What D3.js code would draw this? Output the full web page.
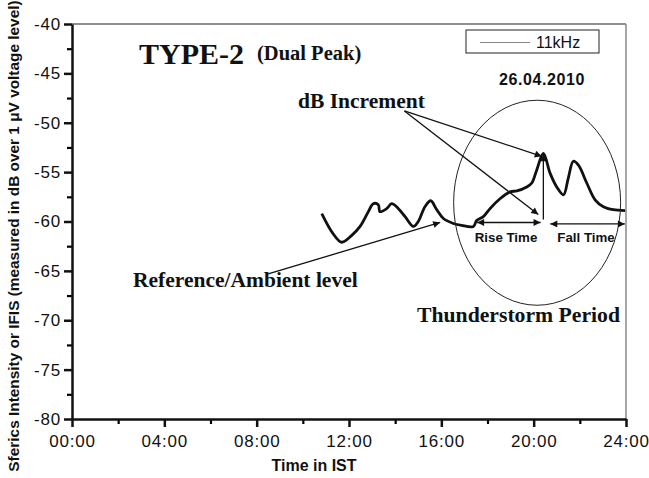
<!DOCTYPE html>
<html>
<head>
<meta charset="utf-8">
<script src="https://cdn.jsdelivr.net/npm/d3@7"></script>
<style>
  body { margin: 0; background: #fff; }
  svg { display: block; }
  .tick text { font-family: "Liberation Sans", Arial, sans-serif; font-size: 17px; letter-spacing: 0.8px; fill: #111; }
  .serif { font-family: "Liberation Serif", "Times New Roman", serif; font-weight: bold; fill: #111; }
  .sans { font-family: "Liberation Sans", Arial, sans-serif; fill: #111; }
</style>
</head>
<body>
<div class="chart"></div>
<script>
// Data: time of day (hours, IST) and 11 kHz sferics level (dB)
const hours = [10.82, 11.3, 11.68, 12.12, 12.48, 12.84, 13.05, 13.27, 13.34, 13.63, 13.85, 14.14, 14.43,
    14.79, 15.0, 15.29, 15.54, 15.8, 16.09, 16.52, 16.88, 17.39, 17.53, 17.82, 18.11, 18.54, 18.98,
    19.27, 19.7, 19.92, 20.13, 20.42, 20.71, 21.0, 21.29, 21.5, 21.72, 21.94, 22.3, 22.66, 23.02,
    23.45, 23.96];
const levels = [-59.2, -61.2, -62.1, -61.4, -60.5, -59.0, -58.2, -58.3, -59.0, -58.7, -58.2, -58.7, -59.5,
    -60.5, -60.0, -58.5, -57.9, -58.8, -59.7, -60.2, -60.4, -60.5, -59.9, -59.5, -58.7, -57.7, -57.0,
    -56.9, -56.5, -56.1, -54.8, -53.1, -55.1, -56.5, -57.3, -55.6, -53.9, -54.3, -56.1, -57.8, -58.5,
    -58.8, -58.9];
const xTickValues = [0, 4, 8, 12, 16, 20, 24];
const xTickLabels = ['00:00', '04:00', '08:00', '12:00', '16:00', '20:00', '24:00'];
const yTickValues = [-40, -45, -50, -55, -60, -65, -70, -75, -80];
const seriesName = '11kHz';
const dateLabel = '26.04.2010';

// Margins
const svgWidth = 649;
const svgHeight = 478;
const margin = { top: 24, right: 23, bottom: 59, left: 72 };
const width = svgWidth - margin.left - margin.right;
const height = svgHeight - margin.top - margin.bottom;

const xScale = d3.scaleLinear().domain([0, 24]).range([0, width]);
const yScale = d3.scaleLinear().domain([-80, -40]).range([height, 0]);

const root = d3.select('.chart').append('svg')
    .attr('width', svgWidth)
    .attr('height', svgHeight);

const defs = root.append('defs');
defs.append('marker')
    .attr('id', 'head')
    .attr('viewBox', '0 0 10 10')
    .attr('refX', 10).attr('refY', 5)
    .attr('markerWidth', 9).attr('markerHeight', 7)
    .attr('markerUnits', 'userSpaceOnUse')
    .attr('orient', 'auto-start-reverse')
    .append('path')
    .attr('d', 'M0,0 L10,5 L0,10 z')
    .attr('fill', '#111');

const svg = root.append('g')
    .attr('transform', 'translate(' + margin.left + ',' + margin.top + ')');

// frame: top and right
svg.append('line').attr('x1', 0).attr('x2', width).attr('y1', 0).attr('y2', 0)
    .attr('stroke', '#222').attr('stroke-width', 1.2);
svg.append('line').attr('x1', width).attr('x2', width).attr('y1', 0).attr('y2', height)
    .attr('stroke', '#888').attr('stroke-width', 1.5);

// minor ticks
const xMinor = d3.axisBottom(xScale).tickValues(d3.range(2, 24, 4)).tickSize(5).tickFormat('');
svg.append('g').attr('transform', 'translate(0,' + height + ')').call(xMinor)
    .call(g => g.select('.domain').remove())
    .call(g => g.selectAll('.tick line').attr('stroke-width', 2.2));
const yMinor = d3.axisLeft(yScale).tickValues(d3.range(-77.5, -40, 5)).tickSize(5).tickFormat('');
svg.append('g').call(yMinor)
    .call(g => g.select('.domain').remove())
    .call(g => g.selectAll('.tick line').attr('stroke-width', 2.2));

// axes
const xAxis = d3.axisBottom(xScale)
    .tickValues(xTickValues)
    .tickFormat((d, i) => xTickLabels[i])
    .tickSizeInner(8)
    .tickSizeOuter(0)
    .tickPadding(6);
const xAxisDraw = svg.append('g').attr('class', 'x axis')
    .attr('transform', 'translate(0,' + height + ')');
xAxis(xAxisDraw);

const yAxis = d3.axisLeft(yScale)
    .tickValues(yTickValues)
    .tickFormat(d => String(d))
    .tickSizeInner(8)
    .tickSizeOuter(0)
    .tickPadding(3);
const yAxisDraw = svg.append('g').attr('class', 'y axis');
yAxis(yAxisDraw);

svg.selectAll('.axis .domain').attr('stroke-width', 2.5).attr('stroke', '#111');
svg.selectAll('.axis .tick line').attr('stroke-width', 2.5).attr('stroke', '#111');
svg.selectAll('.x.axis .tick text').attr('dy', '0.85em');

// axis titles
root.append('text').attr('class', 'sans')
    .attr('x', 314).attr('y', 471)
    .attr('text-anchor', 'middle')
    .style('font-size', '16px').style('font-weight', 'bold')
    .text('Time in IST');
root.append('text').attr('class', 'sans')
    .attr('transform', 'translate(19,' + 236 + ') rotate(-90)')
    .attr('text-anchor', 'middle')
    .style('font-size', '15.4px').style('font-weight', 'bold')
    .text('Sferics Intensity or IFIS (measured in dB over 1 \u03bcV voltage level)');

// data line
const points = hours.map((h, i) => [h, levels[i]]);
const line = d3.line().x(d => xScale(d[0])).y(d => yScale(d[1])).curve(d3.curveCatmullRom.alpha(0.5));
svg.append('path')
    .datum(points)
    .attr('d', line)
    .attr('fill', 'none')
    .attr('stroke', '#111')
    .attr('stroke-width', 2.8)
    .attr('stroke-linejoin', 'round');

// legend
svg.append('rect').attr('x', 394).attr('y', 6).attr('width', 133).attr('height', 23)
    .attr('fill', 'none').attr('stroke', '#222').attr('stroke-width', 1);
svg.append('line').attr('x1', 408).attr('x2', 458).attr('y1', 18.5).attr('y2', 18.5)
    .attr('stroke', '#888').attr('stroke-width', 1);
svg.append('text').attr('class', 'sans').attr('x', 464).attr('y', 24)
    .style('font-size', '16px').text(seriesName);
svg.append('text').attr('class', 'sans').attr('x', 470).attr('y', 61)
    .attr('text-anchor', 'middle')
    .style('font-size', '16px').style('font-weight', 'bold').style('letter-spacing', '0.6px')
    .text(dateLabel);

// titles and annotations
svg.append('text').attr('class', 'serif').attr('x', 67).attr('y', 40)
    .style('font-size', '30px').text('TYPE-2');
svg.append('text').attr('class', 'serif').attr('x', 185).attr('y', 36)
    .style('font-size', '20.5px').text('(Dual Peak)');
svg.append('text').attr('class', 'serif').attr('x', 226).attr('y', 84)
    .style('font-size', '21.5px').text('dB Increment');
svg.append('text').attr('class', 'serif').attr('x', 61).attr('y', 263)
    .style('font-size', '21.5px').text('Reference/Ambient level');
svg.append('text').attr('class', 'serif').attr('x', 548).attr('y', 298)
    .attr('text-anchor', 'end')
    .style('font-size', '21.7px').text('Thunderstorm Period');
svg.append('text').attr('class', 'sans').attr('x', 434).attr('y', 218)
    .attr('text-anchor', 'middle')
    .style('font-size', '13.3px').style('font-weight', 'bold').text('Rise Time');
svg.append('text').attr('class', 'sans').attr('x', 514).attr('y', 218)
    .attr('text-anchor', 'middle')
    .style('font-size', '13.3px').style('font-weight', 'bold').text('Fall Time');

// thunderstorm ellipse
svg.append('ellipse')
    .attr('cx', xScale(20.15)).attr('cy', yScale(-58.1))
    .attr('rx', 83.5).attr('ry', 102.5)
    .attr('fill', 'none').attr('stroke', '#222').attr('stroke-width', 1);

// arrows (anchored in data coordinates)
function arrow(x1, y1, x2, y2, both) {
    const a = svg.append('line')
        .attr('x1', xScale(x1)).attr('y1', yScale(y1))
        .attr('x2', xScale(x2)).attr('y2', yScale(y2))
        .attr('stroke', '#111').attr('stroke-width', 1.3)
        .attr('marker-end', 'url(#head)');
    if (both) a.attr('marker-start', 'url(#head)');
}
arrow(14.4, -48.8, 20.35, -53.4);   // dB Increment -> peak
arrow(14.4, -48.8, 20.2, -59.3);    // dB Increment -> base
arrow(8.5, -65.3, 15.95, -60.1);    // Reference level
arrow(20.42, -59.8, 20.42, -53.2);  // vertical increment
arrow(17.55, -60.1, 20.3, -60.1, true);   // Rise time
arrow(20.72, -60.25, 23.95, -60.25, true); // Fall time
</script>
</body>
</html>
